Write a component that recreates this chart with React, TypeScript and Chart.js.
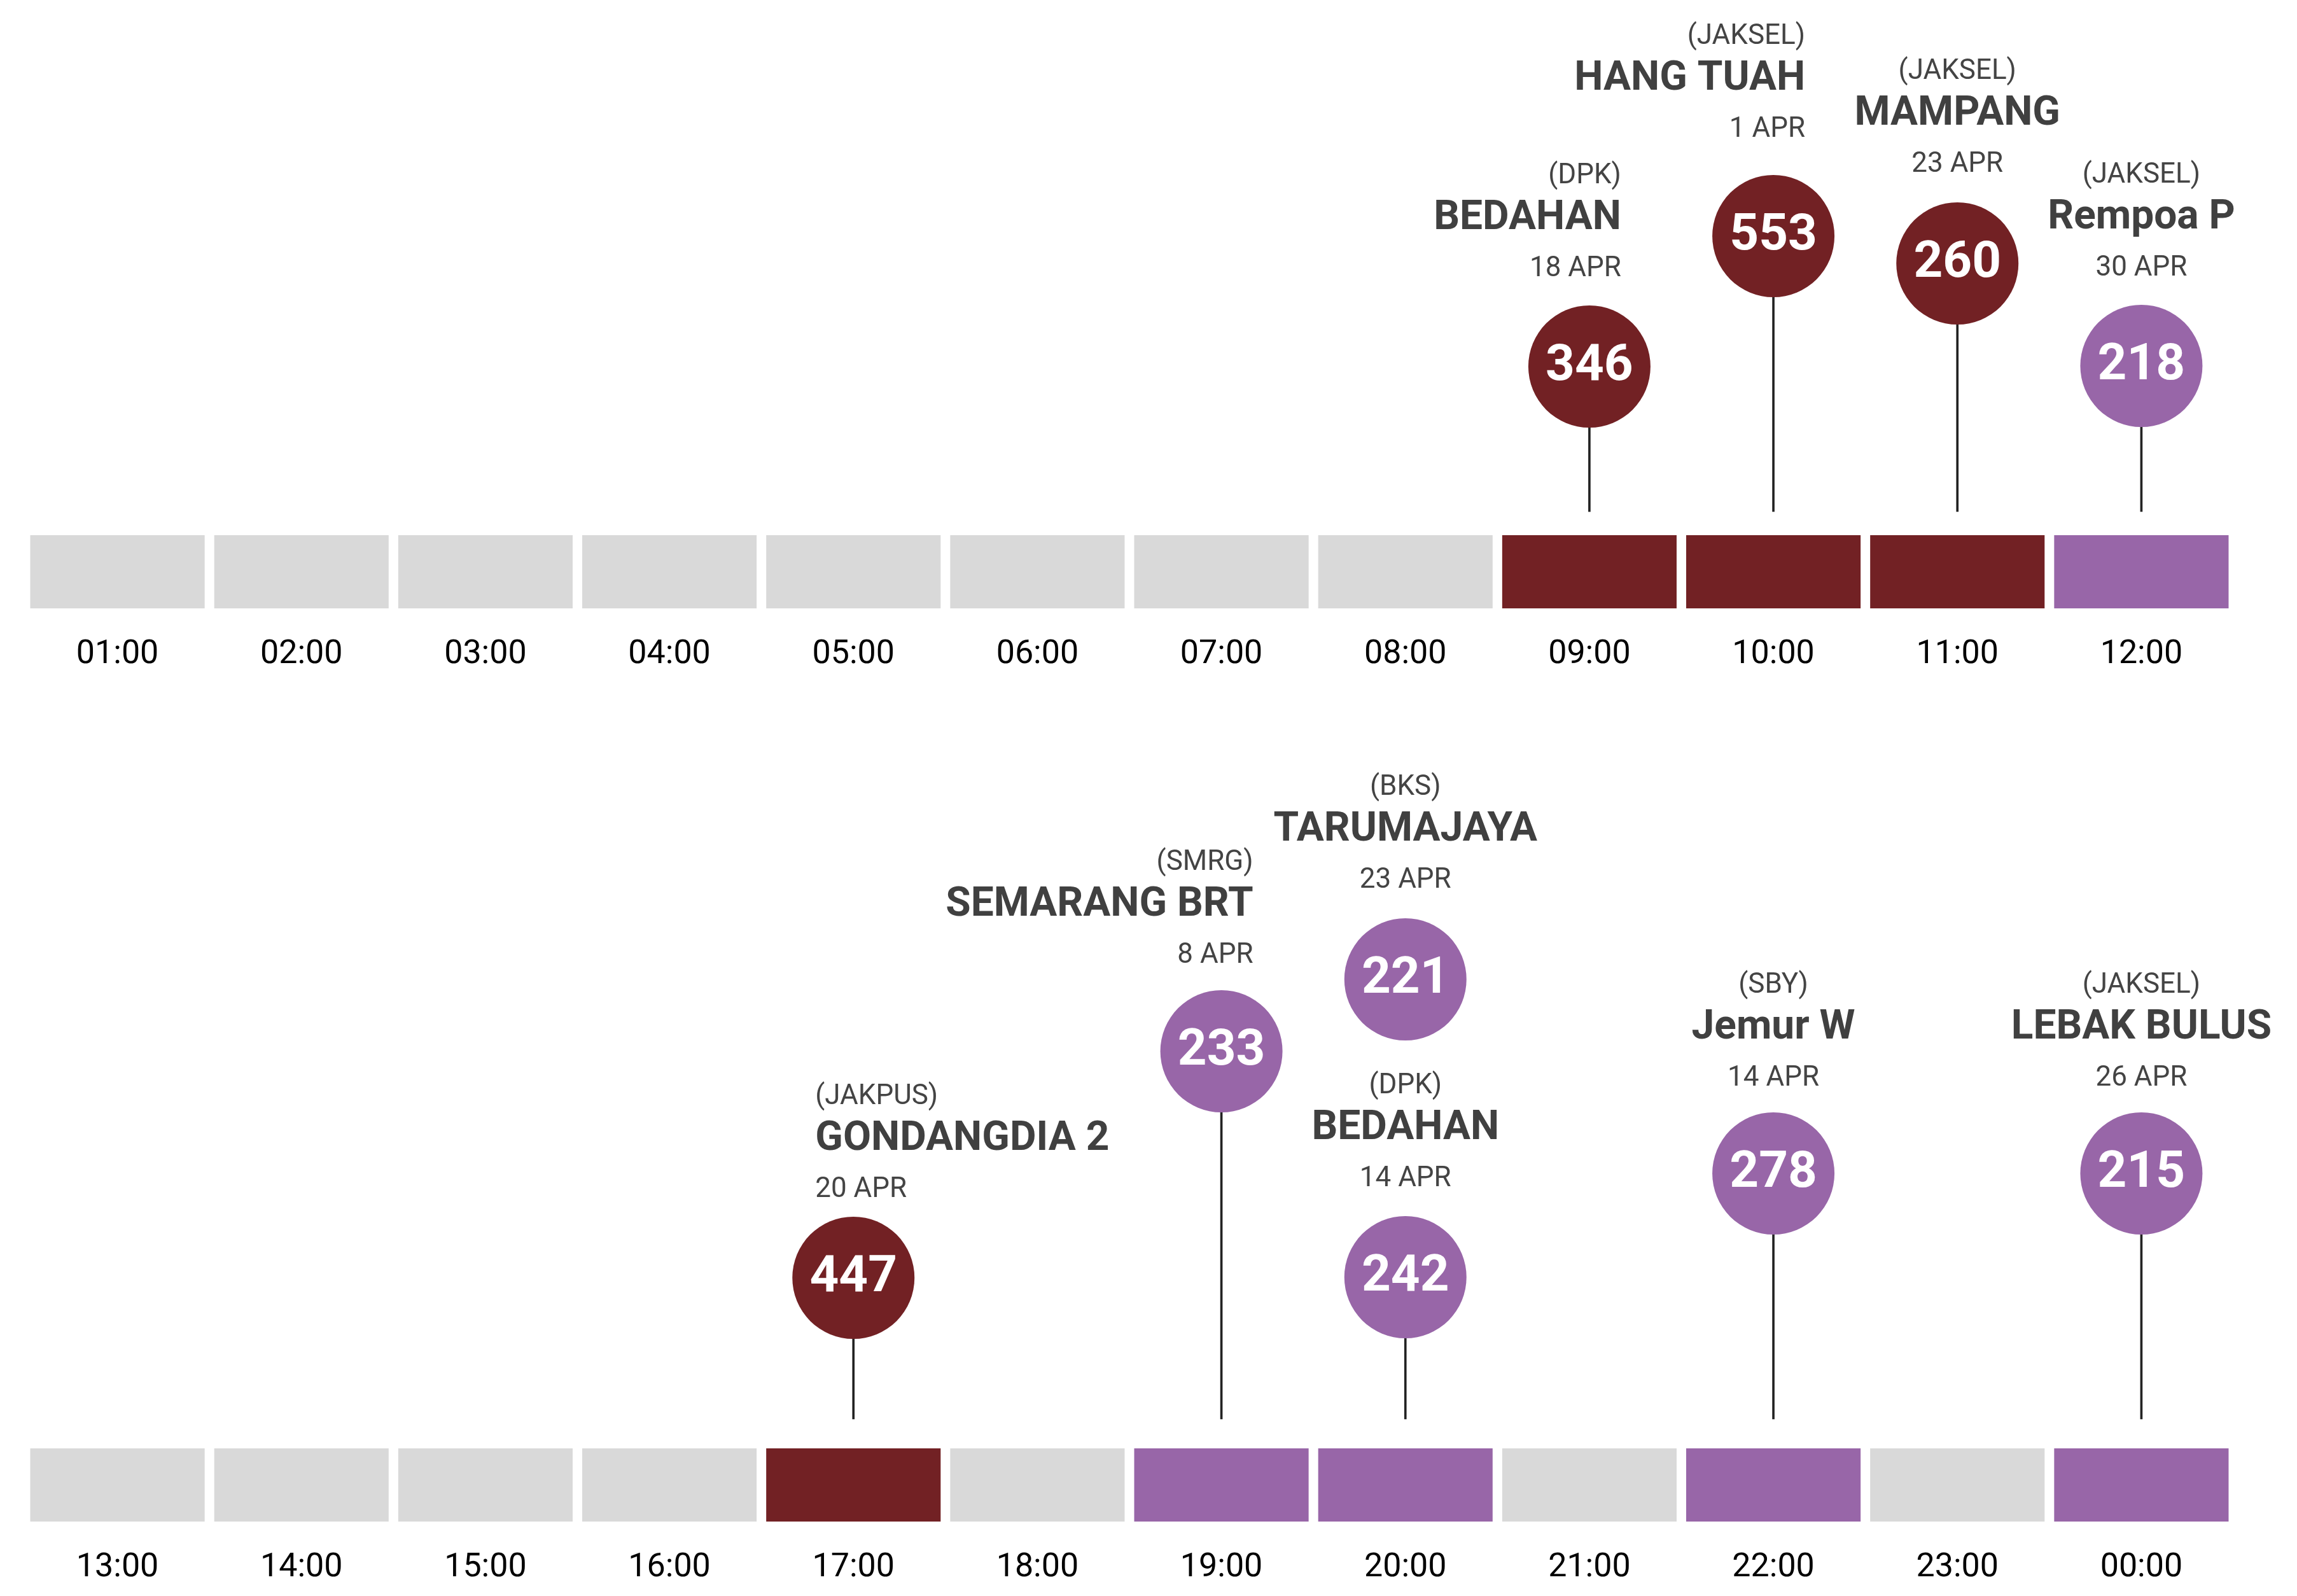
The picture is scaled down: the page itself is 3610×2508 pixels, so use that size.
import React, { useEffect, useRef } from 'react';
import { Chart, registerables } from 'chart.js';

Chart.register(...registerables);

// ---------- DATA ----------
const HOURS_TOP = ['01:00', '02:00', '03:00', '04:00', '05:00', '06:00', '07:00', '08:00', '09:00', '10:00', '11:00', '12:00'];
const HOURS_BOTTOM = ['13:00', '14:00', '15:00', '16:00', '17:00', '18:00', '19:00', '20:00', '21:00', '22:00', '23:00', '00:00'];

const TOP_EVENT_HOURS = ['09:00', '10:00', '11:00', '12:00'];
const TOP_VALUES = [346, 553, 260, 218];
const TOP_NAMES = ['BEDAHAN', 'HANG TUAH', 'MAMPANG', 'Rempoa P'];
const TOP_REGIONS = ['(DPK)', '(JAKSEL)', '(JAKSEL)', '(JAKSEL)'];
const TOP_DATES = ['18 APR', '1 APR', '23 APR', '30 APR'];
const TOP_LEVELS = ['high', 'high', 'high', 'mid'];

const BOTTOM_EVENT_HOURS = ['17:00', '19:00', '20:00', '20:00', '22:00', '00:00'];
const BOTTOM_VALUES = [447, 233, 221, 242, 278, 215];
const BOTTOM_NAMES = ['GONDANGDIA 2', 'SEMARANG BRT', 'TARUMAJAYA', 'BEDAHAN', 'Jemur W', 'LEBAK BULUS'];
const BOTTOM_REGIONS = ['(JAKPUS)', '(SMRG)', '(BKS)', '(DPK)', '(SBY)', '(JAKSEL)'];
const BOTTOM_DATES = ['20 APR', '8 APR', '23 APR', '14 APR', '14 APR', '26 APR'];
const BOTTOM_LEVELS = ['high', 'mid', 'mid', 'mid', 'mid', 'mid'];

// ---------- LAYOUT (callout placement, not data) ----------
const TOP_LIFT = [380, 585, 542, 381];
const TOP_ALIGN = ['right', 'right', 'center', 'center'];
const TOP_GAP = [46, 60, 48, 46];
const BOTTOM_LIFT = [383, 739, 852, 384, 547, 547];
const BOTTOM_ALIGN = ['left', 'right', 'center', 'center', 'center', 'center'];
const BOTTOM_GAP = [31, 43, 48, 47, 42, 42];

const COLORS: Record<string, string> = { high: '#722124', mid: '#9866a8', none: '#d9d9d9' };
const FONT = 'Roboto, "Noto Sans", sans-serif';
const SLOT = 115;
const Y_MAX = 956;
const R = 96;

type Row = {
  hours: string[];
  evHours: string[];
  values: number[];
  names: string[];
  regions: string[];
  dates: string[];
  levels: string[];
  lift: number[];
  align: string[];
  gap: number[];
  stemBase: number;
  height: number;
  axisHeight: number;
  padTop: number;
};

const calloutPlugin = {
  id: 'callouts',
  afterDatasetsDraw(chart: any, _args: any, opts: any) {
    const ctx = chart.ctx;
    const meta = chart.getDatasetMeta(0);
    ctx.save();
    meta.data.forEach((pt: any, i: number) => {
      const cx = pt.x;
      const cy = pt.y;
      ctx.fillStyle = '#ffffff';
      ctx.font = `bold 80px ${FONT}`;
      ctx.textAlign = 'center';
      ctx.textBaseline = 'middle';
      ctx.fillText(String(opts.values[i]), cx, cy + 1);
      const al = opts.align[i];
      let tx = cx;
      if (al === 'right') tx = cx + 50;
      if (al === 'left') tx = cx - 60;
      ctx.textAlign = al;
      ctx.textBaseline = 'alphabetic';
      const dateY = cy - R - opts.gap[i];
      const nameY = dateY - 74;
      const regionY = nameY - 72;
      ctx.fillStyle = '#444444';
      ctx.font = `44px ${FONT}`;
      ctx.fillText(opts.dates[i], tx, dateY);
      ctx.fillText(opts.regions[i], tx, regionY);
      ctx.fillStyle = '#404040';
      ctx.font = `bold 64px ${FONT}`;
      ctx.fillText(opts.names[i], tx, nameY);
    });
    ctx.restore();
  },
};

function buildConfig(row: Row): any {
  const barColors = row.hours.map((h) => {
    const lv = row.evHours.map((eh, i) => (eh === h ? row.levels[i] : null)).filter(Boolean);
    if (lv.includes('high')) return COLORS.high;
    if (lv.length) return COLORS.mid;
    return COLORS.none;
  });
  const uniq = Array.from(new Set(row.evHours));
  const stems = uniq.map((h) => ({
    x: h,
    y: [row.stemBase, Math.min(...row.evHours.map((eh, i) => (eh === h ? row.lift[i] : Infinity)))],
  }));
  const axisH = row.axisHeight;
  return {
    type: 'bar',
    data: {
      labels: row.hours,
      datasets: [
        {
          type: 'line',
          data: row.evHours.map((h, i) => ({ x: h, y: row.lift[i] })),
          showLine: false,
          pointRadius: R,
          pointHoverRadius: R,
          pointBorderWidth: 0,
          pointBackgroundColor: row.levels.map((l) => COLORS[l]),
          clip: false,
          order: 0,
        },
        {
          type: 'bar',
          data: stems,
          backgroundColor: '#222222',
          barThickness: 3,
          grouped: false,
          order: 1,
        },
        {
          type: 'bar',
          data: row.hours.map(() => [0, SLOT]),
          backgroundColor: barColors,
          barPercentage: 0.948,
          categoryPercentage: 1,
          grouped: false,
          order: 2,
        },
      ],
    },
    options: {
      animation: false,
      responsive: false,
      events: [],
      devicePixelRatio: 1,
      layout: { autoPadding: false, padding: { left: 40, right: 100, top: row.padTop, bottom: 0 } },
      plugins: {
        legend: { display: false },
        tooltip: { enabled: false },
        callouts: {
          values: row.values,
          names: row.names,
          regions: row.regions,
          dates: row.dates,
          align: row.align,
          gap: row.gap,
        },
      },
      scales: {
        x: {
          type: 'category',
          offset: true,
          grid: { display: false, drawTicks: false },
          border: { display: false },
          ticks: {
            color: '#000000',
            font: { family: FONT, size: 52 },
            padding: 42,
            autoSkip: false,
            maxRotation: 0,
            minRotation: 0,
          },
          afterFit: (axis: any) => {
            axis.height = axisH;
            axis.paddingLeft = 0;
            axis.paddingRight = 0;
          },
        },
        y: { display: false, min: 0, max: Y_MAX },
      },
    },
    plugins: [calloutPlugin],
  };
}

const TOP_ROW: Row = {
  hours: HOURS_TOP,
  evHours: TOP_EVENT_HOURS,
  values: TOP_VALUES,
  names: TOP_NAMES,
  regions: TOP_REGIONS,
  dates: TOP_DATES,
  levels: TOP_LEVELS,
  lift: TOP_LIFT,
  align: TOP_ALIGN,
  gap: TOP_GAP,
  stemBase: 152,
  height: 1150,
  axisHeight: 194,
  padTop: 0,
};

const BOTTOM_ROW: Row = {
  hours: HOURS_BOTTOM,
  evHours: BOTTOM_EVENT_HOURS,
  values: BOTTOM_VALUES,
  names: BOTTOM_NAMES,
  regions: BOTTOM_REGIONS,
  dates: BOTTOM_DATES,
  levels: BOTTOM_LEVELS,
  lift: BOTTOM_LIFT,
  align: BOTTOM_ALIGN,
  gap: BOTTOM_GAP,
  stemBase: 161,
  height: 1358,
  axisHeight: 117,
  padTop: 285,
};

function RowChart({ row }: { row: Row }) {
  const ref = useRef<HTMLCanvasElement | null>(null);
  useEffect(() => {
    if (!ref.current) return;
    const chart = new Chart(ref.current, buildConfig(row));
    return () => chart.destroy();
  }, [row]);
  return (
    <canvas
      ref={ref}
      width={3610}
      height={row.height}
      style={{ display: 'block', width: 3610, height: row.height }}
    />
  );
}

export default function App() {
  return (
    <div style={{ position: 'fixed', left: 0, top: 0, width: 3610, height: 2508, background: '#ffffff', overflow: 'hidden' }}>
      <RowChart row={TOP_ROW} />
      <RowChart row={BOTTOM_ROW} />
    </div>
  );
}
